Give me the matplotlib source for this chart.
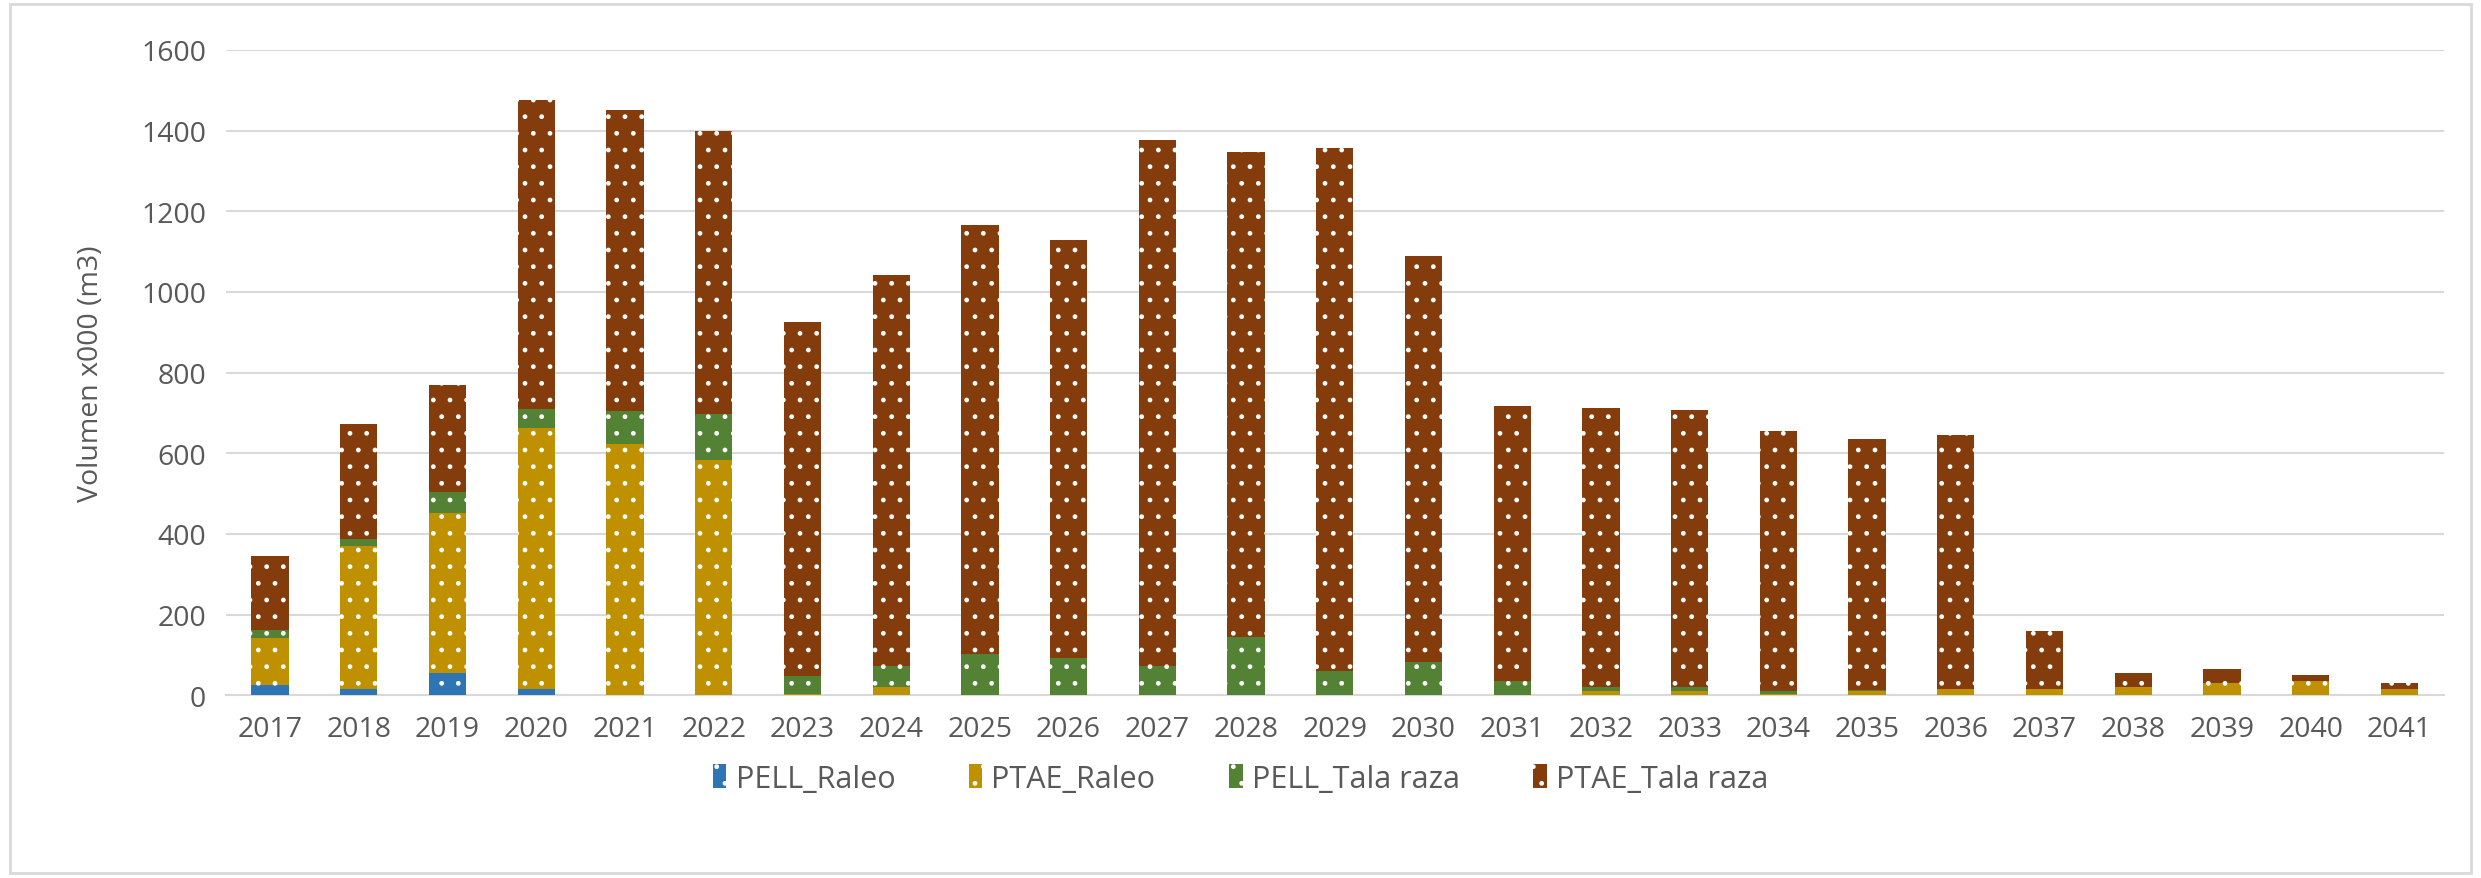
import numpy as np
import matplotlib
matplotlib.use('Agg')
import matplotlib.pyplot as plt
from matplotlib.patches import Rectangle

# datos (x000 m3)
years = [str(y) for y in range(2017, 2042)]
pell_raleo = [25, 15, 54, 15, 0, 0, 0, 0, 0, 0, 0, 0, 0, 0, 0, 0, 0, 0, 0, 0, 0, 0, 0, 0, 0]
ptae_raleo = [116, 355, 397, 648, 623, 583, 4, 20, 0, 0, 0, 0, 0, 0, 0, 11, 11, 4, 11, 16, 16, 21, 30, 34, 16]
pell_tala = [20, 18, 53, 46, 81, 115, 44, 53, 102, 92, 73, 145, 59, 82, 34, 9, 9, 7, 1, 0, 0, 0, 0, 0, 0]
ptae_tala = [184, 285, 266, 766, 748, 700, 877, 969, 1065, 1036, 1304, 1203, 1298, 1008, 683, 692, 687, 644, 623, 629, 143, 33, 34, 15, 14]

series = [
    ('PELL_Raleo', pell_raleo, '#2E75B6'),
    ('PTAE_Raleo', ptae_raleo, '#BF9000'),
    ('PELL_Tala raza', pell_tala, '#548235'),
    ('PTAE_Tala raza', ptae_tala, '#843C0C'),
]

plt.rcParams['font.family'] = ['Open Sans', 'DejaVu Sans']
plt.rcParams['hatch.color'] = 'white'
plt.rcParams['hatch.linewidth'] = 1.0
gray_txt = '#595959'

fig = plt.figure(figsize=(24.81, 8.79), dpi=100)
ax = fig.add_axes([0.091, 0.208, 0.894, 0.734])

x = np.arange(len(years))
bottom = np.zeros(len(years))
for name, vals, col in series:
    vals = np.array(vals, dtype=float)
    ax.bar(x, vals, width=0.42, bottom=bottom, color=col, linewidth=0,
           hatch='.', label=name, zorder=3)
    bottom += vals

ax.set_xlim(-0.5, len(years) - 0.5)
ax.set_ylim(0, 1600)
ax.set_yticks(range(0, 1601, 200))
ax.set_xticks(x)
ax.set_xticklabels(years)
ax.tick_params(axis='both', length=0, labelsize=20.5, colors=gray_txt, pad=14)
ax.grid(axis='y', color='#D9D9D9', linewidth=1.5, zorder=0)
for s in ['top', 'right', 'left']:
    ax.spines[s].set_visible(False)
ax.spines['bottom'].set_color('#D9D9D9')
ax.spines['bottom'].set_linewidth(1.5)
ax.set_ylabel('Volumen x000 (m3)', fontsize=20.5, color=gray_txt)
ax.yaxis.set_label_coords(-0.0545, 0.5)

leg = fig.legend(loc='center', bbox_to_anchor=(0.5, 0.113), ncol=4, frameon=False,
                 fontsize=22, handlelength=0.45, handleheight=0.8,
                 handletextpad=0.3, columnspacing=2.4)
for t in leg.get_texts():
    t.set_color(gray_txt)

# borde exterior
fig.patches.append(Rectangle((0.004, 0.006), 0.992, 0.988, transform=fig.transFigure,
                             fill=False, edgecolor='#D9D9D9', linewidth=2))

fig.savefig('out.png', dpi=100)
